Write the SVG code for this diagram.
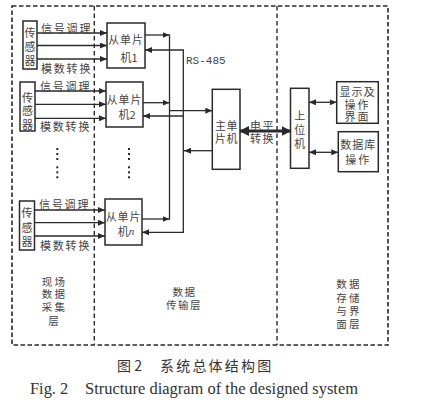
<svg xmlns="http://www.w3.org/2000/svg" width="422" height="409" viewBox="0 0 422 409">
<style>
.bx{fill:none;stroke:#2a2a2a;stroke-width:1.5}
.ln{fill:none;stroke:#2a2a2a;stroke-width:1.3}
.dash{fill:none;stroke:#2a2a2a;stroke-width:1.6;stroke-dasharray:4.5,2.5}
.dv{fill:none;stroke:#2a2a2a;stroke-width:1.4;stroke-dasharray:4.5,3}
.cn{font-family:"Noto Sans CJK SC","Noto Sans",sans-serif;font-size:11px;fill:#444;text-anchor:middle;dominant-baseline:central}
.lb{font-family:"Noto Sans CJK SC","Noto Sans",sans-serif;font-size:11px;fill:#444;letter-spacing:1.8px;dominant-baseline:central}
.ly{font-family:"Noto Sans CJK SC","Noto Sans",sans-serif;font-size:10.5px;fill:#444;text-anchor:middle;dominant-baseline:central}
.dot{fill:#2a2a2a}
</style>
<defs>
<marker id="ah" viewBox="0 0 7 6" refX="7" refY="3" markerWidth="7" markerHeight="6" markerUnits="userSpaceOnUse" orient="auto-start-reverse">
<path d="M0,0 L7,3 L0,6 z" fill="#2a2a2a"/>
</marker>
<marker id="big" viewBox="0 0 10 10" refX="9" refY="5" markerWidth="10" markerHeight="10" markerUnits="userSpaceOnUse" orient="auto-start-reverse">
<path d="M0,0 L10,5 L0,10 z" fill="#2a2a2a"/>
</marker>
</defs>

<g id="layers">
<rect class="dash" x="12" y="6" width="376" height="339"/>
<line class="dv" x1="94.3" y1="6" x2="94.3" y2="345"/>
<line class="dv" x1="277" y1="6" x2="277" y2="345"/>
</g>

<g id="sensor1">
<rect class="bx" x="23" y="21" width="14" height="48"/>
<text class="cn"><tspan x="30" y="31.5">传</tspan><tspan x="30" y="45.5">感</tspan><tspan x="30" y="59.5">器</tspan></text>
</g>
<g id="sensor2">
<rect class="bx" x="20" y="82" width="15" height="49"/>
<text class="cn"><tspan x="27.5" y="96.5">传</tspan><tspan x="27.5" y="110">感</tspan><tspan x="27.5" y="124">器</tspan></text>
</g>
<g id="sensorn">
<rect class="bx" x="19.5" y="201" width="15" height="49"/>
<text class="cn"><tspan x="27" y="212">传</tspan><tspan x="27" y="226.5">感</tspan><tspan x="27" y="241">器</tspan></text>
</g>

<g id="slave1">
<rect class="bx" x="107" y="23" width="38" height="45"/>
<text class="cn"><tspan x="126" y="39" letter-spacing="0.8">从单片</tspan><tspan x="129" y="57">机1</tspan></text>
</g>
<g id="slave2">
<rect class="bx" x="106" y="82" width="37" height="45"/>
<text class="cn"><tspan x="124.5" y="98.5" letter-spacing="0.8">从单片</tspan><tspan x="127" y="114">机2</tspan></text>
</g>
<g id="slaven">
<rect class="bx" x="105" y="199" width="37" height="46"/>
<text class="cn"><tspan x="123.5" y="215.5" letter-spacing="0.8">从单片</tspan><tspan x="126" y="230.5">机<tspan font-style="italic" font-family="Liberation Serif,serif">n</tspan></tspan></text>
</g>

<g id="main">
<rect class="bx" x="212.3" y="89.3" width="27.7" height="80"/>
<text class="cn" letter-spacing="0.5"><tspan x="226.5" y="124.5">主单</tspan><tspan x="226.5" y="137.5">片机</tspan></text>
</g>

<g id="host">
<rect class="bx" x="290.5" y="88.3" width="18.5" height="80"/>
<text class="cn"><tspan x="299.7" y="115">上</tspan><tspan x="299.7" y="129">位</tspan><tspan x="299.7" y="142.5">机</tspan></text>
</g>
<g id="ui">
<rect class="bx" x="336.7" y="81.7" width="41.6" height="41.6"/>
<text class="cn"><tspan x="357.5" y="90.5" letter-spacing="1">显示及</tspan><tspan x="357.5" y="103.5" letter-spacing="2">操作</tspan><tspan x="357.5" y="116" letter-spacing="2">界面</tspan></text>
</g>
<g id="db">
<rect class="bx" x="338.3" y="131.7" width="40" height="40"/>
<text class="cn"><tspan x="358.3" y="144" letter-spacing="1">数据库</tspan><tspan x="358.3" y="159" letter-spacing="2">操作</tspan></text>
</g>

<g id="connectors">
<line class="ln" x1="37" y1="33" x2="107" y2="33" marker-end="url(#ah)"/>
<line class="ln" x1="37" y1="45.5" x2="107" y2="45.5" marker-end="url(#ah)"/>
<line class="ln" x1="37" y1="59" x2="107" y2="59" marker-end="url(#ah)"/>
<line class="ln" x1="35" y1="91" x2="106" y2="91" marker-end="url(#ah)"/>
<line class="ln" x1="35" y1="104.3" x2="106" y2="104.3" marker-end="url(#ah)"/>
<line class="ln" x1="35" y1="118.3" x2="106" y2="118.3" marker-end="url(#ah)"/>
<line class="ln" x1="34.5" y1="210" x2="105" y2="210" marker-end="url(#ah)"/>
<line class="ln" x1="34.5" y1="222.7" x2="105" y2="222.7" marker-end="url(#ah)"/>
<line class="ln" x1="34.5" y1="236" x2="105" y2="236" marker-end="url(#ah)"/>

<line class="ln" x1="145" y1="35" x2="169.5" y2="35" marker-end="url(#ah)"/>
<line class="ln" x1="143" y1="102.7" x2="169.5" y2="102.7" marker-end="url(#ah)"/>
<line class="ln" x1="142" y1="219" x2="169.5" y2="219" marker-end="url(#ah)"/>
<line class="ln" x1="183.3" y1="50" x2="145" y2="50" marker-end="url(#ah)"/>
<line class="ln" x1="183.3" y1="116" x2="143" y2="116" marker-end="url(#ah)"/>
<line class="ln" x1="183.3" y1="232.3" x2="142" y2="232.3" marker-end="url(#ah)"/>
<line class="ln" x1="169.5" y1="34.3" x2="169.5" y2="219.7"/>
<line class="ln" x1="183.3" y1="49.3" x2="183.3" y2="233"/>
<line class="ln" x1="169.5" y1="110.7" x2="212.3" y2="110.7" marker-end="url(#ah)"/>
<line class="ln" x1="212.3" y1="150.7" x2="184" y2="150.7" marker-end="url(#ah)"/>

<line x1="240" y1="131" x2="290.5" y2="131" stroke="#2a2a2a" stroke-width="3" marker-start="url(#big)" marker-end="url(#big)"/>
<line class="ln" x1="309" y1="102.3" x2="336.7" y2="102.3" marker-start="url(#ah)" marker-end="url(#ah)"/>
<line class="ln" x1="309" y1="152.3" x2="338.3" y2="152.3" marker-start="url(#ah)" marker-end="url(#ah)"/>
</g>

<g id="labels">
<text class="lb" x="41" y="27.5">信号调理</text>
<text class="lb" x="41" y="68">模数转换</text>
<text class="lb" x="40" y="85.5">信号调理</text>
<text class="lb" x="40" y="126">模数转换</text>
<text class="lb" x="39" y="204">信号调理</text>
<text class="lb" x="40" y="245">模数转换</text>
<text x="186" y="63.5" font-family="Liberation Mono,monospace" font-size="11" fill="#444">RS-485</text>
<text class="cn" letter-spacing="1.5"><tspan x="262.5" y="124.5">电平</tspan><tspan x="262.5" y="138">转换</tspan></text>
</g>

<g id="dots">
<rect class="dot" x="56.3" y="148" width="2" height="2"/><rect class="dot" x="56.3" y="153" width="2" height="2"/><rect class="dot" x="56.3" y="158" width="2" height="2"/>
<rect class="dot" x="56.3" y="166.3" width="2" height="2"/><rect class="dot" x="56.3" y="171.3" width="2" height="2"/><rect class="dot" x="56.3" y="176.3" width="2" height="2"/>
<rect class="dot" x="128" y="148" width="2" height="2"/><rect class="dot" x="128" y="153" width="2" height="2"/><rect class="dot" x="128" y="158" width="2" height="2"/>
<rect class="dot" x="128" y="166.3" width="2" height="2"/><rect class="dot" x="128" y="171.3" width="2" height="2"/><rect class="dot" x="128" y="176.3" width="2" height="2"/>
</g>

<g id="layer-titles">
<text class="ly" letter-spacing="2.2"><tspan x="54.5" y="281">现场</tspan><tspan x="54.5" y="293">数据</tspan><tspan x="54.5" y="306">采集</tspan><tspan x="54.5" y="319.5">层</tspan></text>
<text class="ly" letter-spacing="1.5"><tspan x="184.5" y="290.5">数据</tspan><tspan x="184" y="304">传输层</tspan></text>
<text class="ly" letter-spacing="2.2"><tspan x="349" y="283">数据</tspan><tspan x="349" y="296.7">存储</tspan><tspan x="349" y="310">与界</tspan><tspan x="349" y="323.3">面层</tspan></text>
</g>

<g id="caption">
<text x="117" y="364.5" font-family="Noto Sans CJK SC,sans-serif" font-size="14" fill="#333" dominant-baseline="central">图 2</text>
<text x="160" y="364.5" font-family="Noto Sans CJK SC,sans-serif" font-size="14" fill="#333" dominant-baseline="central" letter-spacing="2.2">系统总体结构图</text>
<text x="30" y="394" font-family="Liberation Serif,serif" font-size="16.4" fill="#333">Fig. 2</text>
<text x="85" y="394" font-family="Liberation Serif,serif" font-size="16.4" fill="#333" textLength="273" lengthAdjust="spacingAndGlyphs">Structure diagram of the designed system</text>
</g>
</svg>
